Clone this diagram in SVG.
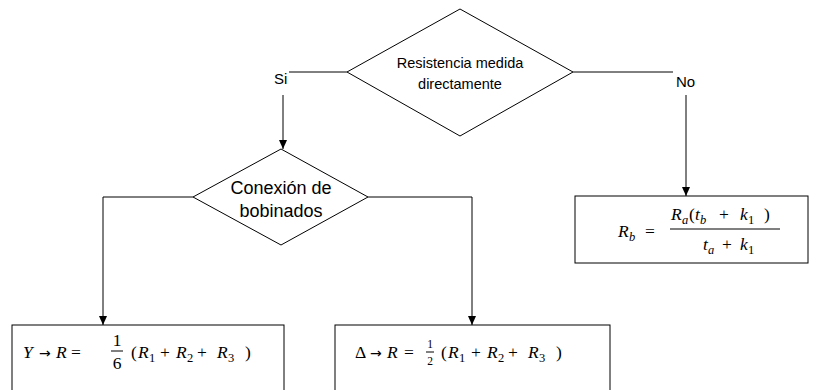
<svg xmlns="http://www.w3.org/2000/svg" width="814" height="390" viewBox="0 0 814 390">
<style>
.shape{fill:#fff;stroke:#000;stroke-width:1}
.conn{fill:none;stroke:#000;stroke-width:1}
.lbl{font-family:"Liberation Sans","DejaVu Sans",sans-serif;fill:#000}
.m{font-family:"Liberation Serif","DejaVu Serif",serif;font-style:italic;font-size:17.5px;fill:#000}
.n{font-style:normal}
.s{font-size:12.5px}
.f{font-size:11.5px}
.ar{font-family:"DejaVu Sans",sans-serif;font-style:normal;font-size:14px}
</style>
<defs>
<marker id="ah" markerWidth="10" markerHeight="10" refX="9" refY="5" orient="auto" markerUnits="userSpaceOnUse">
<path d="M0,1 L9,5 L0,9 Z" fill="#000"/>
</marker>
</defs>
<rect width="814" height="390" fill="#fff"/>
<g id="connectors">
<polyline class="conn" points="347,72 289,72"/>
<polyline class="conn" points="283,95 283,149" marker-end="url(#ah)"/>
<polyline class="conn" points="573,72 673,72"/>
<polyline class="conn" points="686,95 686,196" marker-end="url(#ah)"/>
<polyline class="conn" points="193,197 103,197 103,325" marker-end="url(#ah)"/>
<polyline class="conn" points="368,197 472,197 472,325" marker-end="url(#ah)"/>
<text class="lbl" x="274" y="84" font-size="15">Si</text>
<text class="lbl" x="676" y="87" font-size="15">No</text>
</g>
<g id="decision1">
<polygon class="shape" points="460,9 573,72 460,136 347,72"/>
<text class="lbl" font-size="14.5" text-anchor="middle" x="460" y="68">Resistencia medida</text>
<text class="lbl" font-size="14.5" text-anchor="middle" x="460" y="89">directamente</text>
</g>
<g id="decision2">
<polygon class="shape" points="281,149 368,197 281,245 193,197"/>
<text class="lbl" font-size="18" text-anchor="middle" x="281" y="194">Conexión de</text>
<text class="lbl" font-size="18" text-anchor="middle" x="281" y="217">bobinados</text>
</g>
<g id="box-rb">
<rect class="shape" x="575" y="196" width="233" height="67"/>
<text class="m" y="237"><tspan x="618">R</tspan><tspan class="s" x="629" y="241">b</tspan><tspan class="n" x="645" y="237">=</tspan></text>
<text class="m" y="220"><tspan x="671">R</tspan><tspan class="s" x="682" y="224">a</tspan><tspan class="n" x="689" y="220">(</tspan><tspan x="695">t</tspan><tspan class="s" x="700" y="224">b</tspan><tspan class="n" x="719" y="220">+</tspan><tspan x="740">k</tspan><tspan class="s n" x="748" y="224">1</tspan><tspan class="n" x="764" y="220">)</tspan></text>
<line class="conn" x1="670" y1="229" x2="780" y2="229"/>
<text class="m" y="250"><tspan x="703">t</tspan><tspan class="s" x="708" y="254">a</tspan><tspan class="n" x="722" y="250">+</tspan><tspan x="740">k</tspan><tspan class="s n" x="748" y="254">1</tspan></text>
</g>
<g id="box-y">
<rect class="shape" x="12" y="325" width="272" height="70"/>
<text class="m" y="358"><tspan x="23">Y</tspan><tspan class="ar" x="39">→</tspan><tspan x="56">R</tspan><tspan class="n" x="71">=</tspan></text>
<text class="m n" x="117" y="346" text-anchor="middle">1</text>
<line class="conn" x1="111" y1="351" x2="123" y2="351"/>
<text class="m n" x="117" y="369" text-anchor="middle">6</text>
<text class="m" y="358"><tspan class="n" x="131">(</tspan><tspan x="138">R</tspan><tspan class="s n" x="149" y="362">1</tspan><tspan class="n" x="160" y="358">+</tspan><tspan x="176">R</tspan><tspan class="s n" x="187" y="362">2</tspan><tspan class="n" x="197" y="358">+</tspan><tspan x="217">R</tspan><tspan class="s n" x="228" y="362">3</tspan><tspan class="n" x="245" y="358">)</tspan></text>
</g>
<g id="box-delta">
<rect class="shape" x="335" y="325" width="275" height="70"/>
<text class="m" y="358"><tspan class="n" x="355">Δ</tspan><tspan class="ar" x="370">→</tspan><tspan x="387">R</tspan><tspan class="n" x="404">=</tspan></text>
<text class="m n f" x="430" y="348" text-anchor="middle">1</text>
<line class="conn" x1="426" y1="352" x2="434" y2="352"/>
<text class="m n f" x="430" y="365" text-anchor="middle">2</text>
<text class="m" y="358"><tspan class="n" x="441">(</tspan><tspan x="448">R</tspan><tspan class="s n" x="459" y="362">1</tspan><tspan class="n" x="471" y="358">+</tspan><tspan x="487">R</tspan><tspan class="s n" x="498" y="362">2</tspan><tspan class="n" x="508" y="358">+</tspan><tspan x="528">R</tspan><tspan class="s n" x="539" y="362">3</tspan><tspan class="n" x="556" y="358">)</tspan></text>
</g>
</svg>
